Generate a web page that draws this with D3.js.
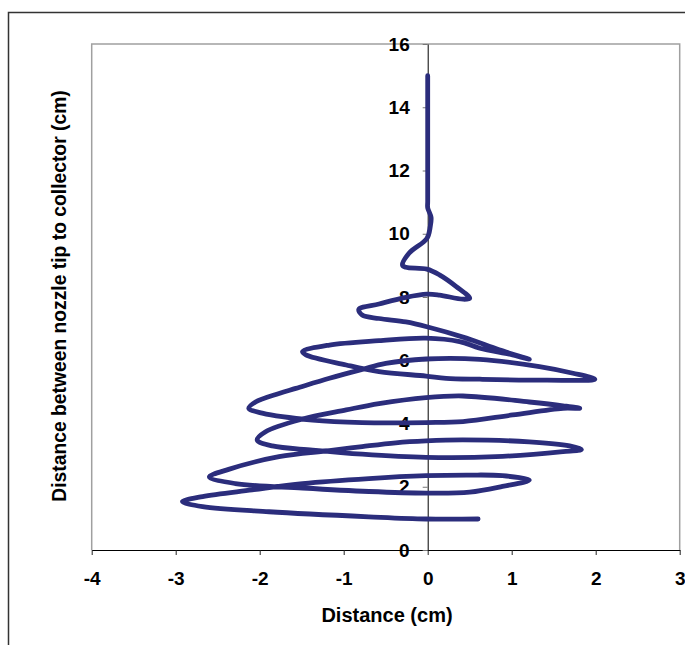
<!DOCTYPE html>
<html>
<head>
<meta charset="utf-8">
<script src="https://cdn.jsdelivr.net/npm/d3@7"></script>
<style>
  body { margin: 0; background: #fff; }
  svg { display: block; font-family: "Liberation Sans", Arial, sans-serif; }
</style>
</head>
<body>
<div class="displayArea"></div>
<script>
// traced path of the jet, x = lateral distance, y = height above collector (cm)
var xs = [0, 0, 0, 0.04, 0.03, -0.01, -0.22, -0.30, -0.26, -0.01, 0.14, 0.34, 0.50, 0.42, 0.14, -0.01,
          -0.26, -0.58, -0.82, -0.78, -0.58, -0.26, -0.01, 0.46, 0.85, 1.21, 1.01, 0.62, 0.38, -0.02,
          -0.58, -1.17, -1.49, -1.45, -0.97, -0.58, -0.02, 0.22, 0.62, 1.41, 1.99, 1.73, 1.33, 0.62,
          -0.02, -0.50, -0.78, -1.17, -1.57, -1.77, -2.05, -2.13, -1.97, -1.37, -0.78, -0.02, 0.42,
          1.01, 1.61, 1.81, 1.61, 1.21, 0.42, -0.02, -0.58, -0.97, -1.49, -1.93, -2.03, -1.85, -1.37,
          -0.78, -0.02, 0.81, 1.61, 1.83, 1.69, 1.21, 0.42, -0.02, -0.38, -0.78, -1.17, -1.77, -2.37,
          -2.60, -2.29, -1.49, -0.70, -0.02, 0.50, 0.89, 1.21, 0.89, 0.50, -0.02, -0.70, -1.49, -2.09,
          -2.68, -2.92, -2.68, -1.89, -0.70, -0.02, 0.60];
var ys = [15.0, 11.02, 10.82, 10.52, 10.22, 9.85, 9.39, 9.01, 8.94, 8.88, 8.70, 8.33, 7.96, 7.93, 8.06, 8.09,
          7.99, 7.78, 7.61, 7.43, 7.32, 7.21, 7.06, 6.70, 6.33, 6.03, 6.17, 6.38, 6.59, 6.70,
          6.62, 6.48, 6.27, 6.17, 5.85, 5.64, 5.50, 5.43, 5.40, 5.37, 5.40, 5.59, 5.80, 6.03,
          6.04, 5.90, 5.71, 5.43, 5.11, 4.95, 4.68, 4.48, 4.33, 4.11, 4.03, 4.03, 4.06,
          4.27, 4.48, 4.48, 4.56, 4.68, 4.87, 4.82, 4.63, 4.43, 4.14, 3.74, 3.48, 3.29, 3.16,
          3.03, 2.93, 2.95, 3.11, 3.18, 3.29, 3.42, 3.48, 3.45, 3.39, 3.27, 3.14, 2.95, 2.55,
          2.31, 2.10, 1.96, 1.85, 1.80, 1.83, 2.01, 2.21, 2.35, 2.37, 2.35, 2.26, 2.10, 1.90,
          1.69, 1.53, 1.37, 1.21, 1.05, 0.98, 0.98];

var xTicks = [-4, -3, -2, -1, 0, 1, 2, 3];
var yTicks = [0, 2, 4, 6, 8, 10, 12, 14, 16];

const width = 685, height = 645;
var plotLeft = 91.7, plotRight = 679.7, plotTop = 44, plotBottom = 550;

var xScale = d3.scaleLinear().domain([-4, 3]).range([plotLeft, plotRight]);
var yScale = d3.scaleLinear().domain([0, 16]).range([plotBottom, plotTop]);

var svg = d3.select(".displayArea")
    .append("svg")
    .attr("width", width)
    .attr("height", height);

// outer chart frame (runs off the page on the right/bottom)
svg.append("rect")
    .attr("x", 8.5).attr("y", 12.5)
    .attr("width", 720).attr("height", 700)
    .attr("fill", "none").attr("stroke", "#333").attr("stroke-width", 1.5);

// plot area border, grey on left / top / right
svg.append("path")
    .attr("d", `M${plotLeft},${plotBottom}V${plotTop}H${plotRight}V${plotBottom}`)
    .attr("fill", "none").attr("stroke", "#a0a0a0").attr("stroke-width", 1.5);

var fmt = function (d) { return String(d); }; // plain hyphen, no decimals

var xAxis = d3.axisBottom(xScale)
    .tickValues(xTicks)
    .tickFormat(fmt)
    .tickSize(5)
    .tickSizeOuter(0)
    .tickPadding(17);

var gx = svg.append("g")
    .attr("transform", `translate(0,${plotBottom})`)
    .call(xAxis);
gx.select(".domain").attr("stroke", "#000").attr("stroke-width", 1.2);
gx.selectAll(".tick line").attr("stroke", "#222");
gx.selectAll(".tick text")
    .attr("font-size", 19).attr("font-weight", "bold").attr("fill", "#000")
    .attr("font-family", "Liberation Sans, Arial, sans-serif");

var yAxis = d3.axisLeft(yScale)
    .tickValues(yTicks)
    .tickFormat(fmt)
    .tickSize(5)
    .tickSizeOuter(0)
    .tickPadding(13);

var gy = svg.append("g")
    .attr("transform", `translate(${xScale(0)},0)`)
    .call(yAxis);
gy.select(".domain").attr("stroke", "#000").attr("stroke-width", 1);
gy.selectAll(".tick line").attr("stroke", "#777");
gy.selectAll(".tick text")
    .attr("font-size", 19).attr("font-weight", "bold").attr("fill", "#000")
    .attr("font-family", "Liberation Sans, Arial, sans-serif");

// the jet path
var line = d3.line()
    .x(function (d, i) { return xScale(xs[i]); })
    .y(function (d, i) { return yScale(ys[i]); })
    .curve(d3.curveCatmullRom.alpha(0.5));

svg.append("path")
    .attr("d", line(xs))
    .attr("fill", "none")
    .attr("stroke", "#2b2d7c")
    .attr("stroke-width", 4.8)
    .attr("stroke-linejoin", "round")
    .attr("stroke-linecap", "round");

// axis titles
svg.append("text")
    .attr("x", 387).attr("y", 622)
    .attr("text-anchor", "middle")
    .attr("font-size", 20).attr("font-weight", "bold")
    .text("Distance (cm)");

svg.append("text")
    .attr("transform", "translate(66,296) rotate(-90)")
    .attr("text-anchor", "middle")
    .attr("font-size", 19.3).attr("font-weight", "bold")
    .text("Distance between nozzle tip to collector (cm)");
</script>
</body>
</html>
